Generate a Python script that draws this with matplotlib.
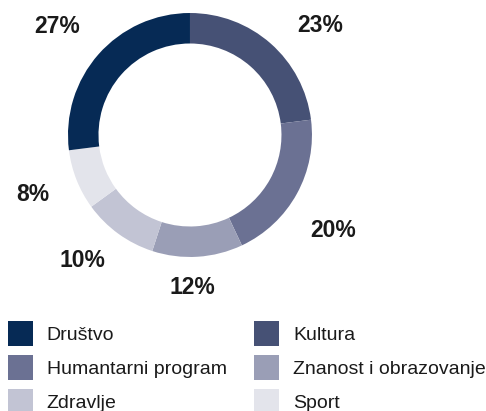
import matplotlib.pyplot as plt

# pie order, clockwise from 12 o'clock
categories = ["Kultura", "Humantarni program", "Znanost i obrazovanje",
              "Zdravlje", "Sport", "Društvo"]
values = [23, 20, 12, 10, 8, 27]
colors = ["#465175", "#6b7193", "#9a9eb6", "#c2c4d4", "#e3e4eb", "#062a55"]

# legend order (row-major in the picture, matplotlib fills columns)
legend_order = ["Društvo", "Humantarni program", "Zdravlje",
                "Kultura", "Znanost i obrazovanje", "Sport"]

# where the percent labels sit (pie data coords, radius 1)
label_pos = [(1.07, 0.90), (1.17, -0.78), (0.02, -1.25),
             (-0.88, -1.03), (-1.29, -0.49), (-1.09, 0.89)]

plt.rcParams['font.family'] = ['Liberation Sans', 'DejaVu Sans']

fig = plt.figure(figsize=(4.86, 4.11), dpi=100)
ax = fig.add_axes([0.1399, 0.3747, 0.502, 0.5937])

wedges, texts, autotexts = ax.pie(
    values, colors=colors, startangle=90, counterclock=False,
    radius=1.0, wedgeprops=dict(width=0.25, linewidth=0),
    autopct=lambda p: f"{p:.0f}%", pctdistance=1.38,
)
for t, pos in zip(autotexts, label_pos):
    t.set_position(pos)
    t.set_fontsize(16.5)
    t.set_fontweight("bold")
    t.set_color("#1a1a1a")

ax.set_xlim(-1, 1)
ax.set_ylim(-1, 1)
ax.set_aspect("equal")

handles = [wedges[categories.index(c)] for c in legend_order]
leg = fig.legend(handles, legend_order, loc="upper left",
                 bbox_to_anchor=(0.016, 0.219), ncol=2, frameon=False,
                 fontsize=14, handlelength=1.29, handleheight=1.6,
                 labelspacing=0.46, handletextpad=0.72, columnspacing=1.4,
                 borderaxespad=0, borderpad=0)
for t in leg.get_texts():
    t.set_color("#1a1a1a")

fig.savefig("out.png", dpi=100)
